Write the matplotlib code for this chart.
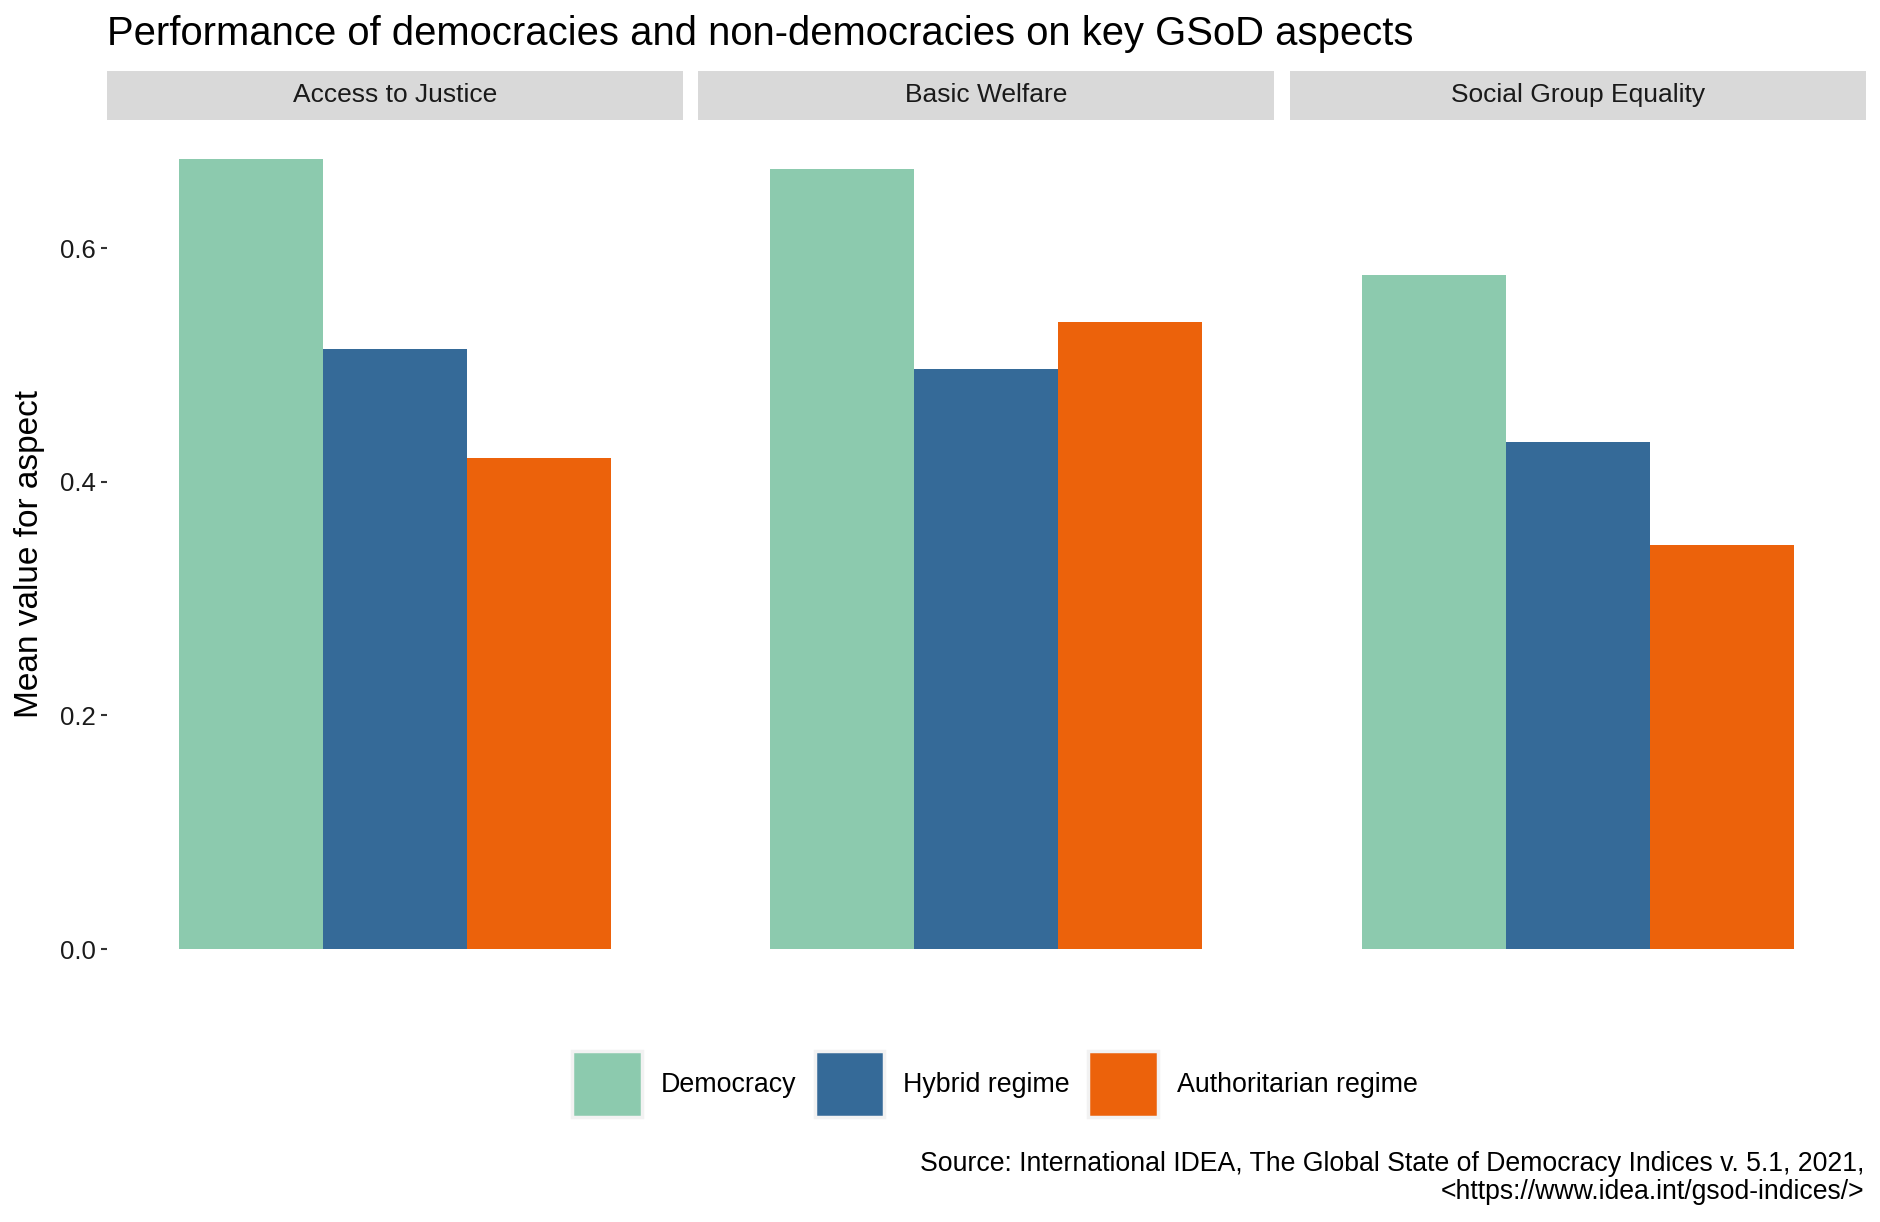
import matplotlib.pyplot as plt
from matplotlib.patches import Patch

plt.rcParams['font.family'] = ['Liberation Sans', 'DejaVu Sans']

# datos
aspects = ['Access to Justice', 'Basic Welfare', 'Social Group Equality']
regimes = ['Democracy', 'Hybrid regime', 'Authoritarian regime']
democracy = [0.676, 0.668, 0.577]
hybrid = [0.514, 0.497, 0.434]
authoritarian = [0.420, 0.537, 0.346]
colors = ['#8CCAAE', '#356A98', '#EC620B']

values = [democracy, hybrid, authoritarian]
ymax = max(max(v) for v in values)

W, H = 1881, 1222
fig = plt.figure(figsize=(W / 100, H / 100), dpi=100)

# posiciones de los paneles en pixeles
panel_left = [106.8, 698.4, 1290.0]
panel_w = 576.0
panel_top = 120.0
panel_bottom = 988.5
strip_top = 70.8

axes = []
for i, aspect in enumerate(aspects):
    ax = fig.add_axes([panel_left[i] / W, 1 - panel_bottom / H,
                       panel_w / W, (panel_bottom - panel_top) / H])
    for j, reg in enumerate(regimes):
        ax.bar((j - 1) * 0.3, values[j][i], width=0.3, color=colors[j], linewidth=0)
    ax.set_xlim(-0.6, 0.6)
    ax.set_ylim(-0.05 * ymax, 1.05 * ymax)
    ax.set_xticks([])
    for s in ax.spines.values():
        s.set_visible(False)
    if i == 0:
        ax.set_yticks([0.0, 0.2, 0.4, 0.6])
        ax.set_yticklabels(['0.0', '0.2', '0.4', '0.6'])
        ax.tick_params(axis='y', length=4, width=1.5, color='#333333',
                       labelsize=18.5, labelcolor='#1a1a1a', pad=4)
    else:
        ax.set_yticks([])
    # franja del titulo de faceta
    sax = fig.add_axes([panel_left[i] / W, 1 - panel_top / H,
                        panel_w / W, (panel_top - strip_top) / H])
    sax.set_facecolor('#D9D9D9')
    sax.set_xticks([])
    sax.set_yticks([])
    for s in sax.spines.values():
        s.set_visible(False)
    sax.text(0.5, 0.5, aspect, ha='center', va='center', fontsize=19,
             color='#1a1a1a', transform=sax.transAxes)
    axes.append(ax)

fig.text(107 / W, 1 - 34 / H, 'Performance of democracies and non-democracies on key GSoD aspects',
         ha='left', va='center', fontsize=28.8)
fig.text(30 / W, 1 - ((panel_top + panel_bottom) / 2) / H, 'Mean value for aspect',
         rotation=90, ha='center', va='center', fontsize=24)

handles = [Patch(facecolor=c, edgecolor='#F2F2F2', linewidth=2.5) for c in colors]
fig.legend(handles, regimes, loc='center', bbox_to_anchor=(995 / W, 1 - 1084 / H),
           ncol=3, frameon=False, fontsize=19.3, handlelength=2.6, handleheight=3.4,
           handletextpad=0.72, columnspacing=0.67)

fig.text(1864 / W, 1 - 1164 / H,
         'Source: International IDEA, The Global State of Democracy Indices v. 5.1, 2021,',
         ha='right', va='center', fontsize=19.2)
fig.text(1864 / W, 1 - 1192 / H, '<https://www.idea.int/gsod-indices/>',
         ha='right', va='center', fontsize=19.2)

fig.savefig('out.png', dpi=100)
